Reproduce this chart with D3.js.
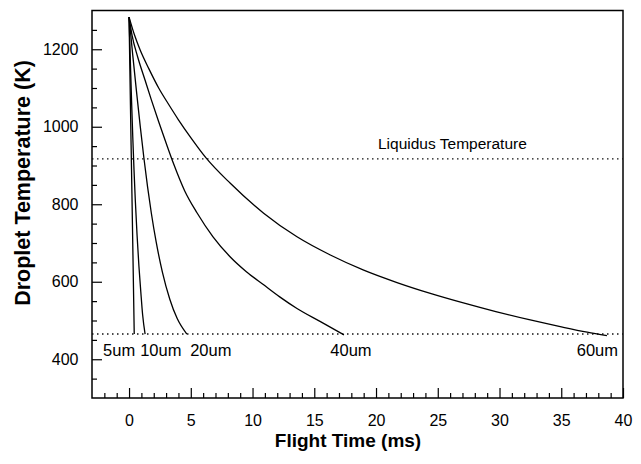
<!DOCTYPE html>
<html><head><meta charset="utf-8">
<script src="https://cdn.jsdelivr.net/npm/d3@7"></script>
<style>
html,body{margin:0;padding:0;background:#fff;}
text{font-family:"Liberation Sans",Arial,Helvetica,sans-serif;}
</style></head>
<body><svg id="chart" width="641" height="464"></svg>
<script>
// ---- data ----
const xTicks = [0, 5, 10, 15, 20, 25, 30, 35, 40];
const yTicks = [400, 600, 800, 1000, 1200];
const xMinorTicks = d3.range(-2, 40, 1);
const yMinorTicks = d3.range(350, 1300, 50);

const liquidusT = 917;
const solidusT = 465;

const t5  = [0, 0.1, 0.2, 0.3, 0.42];
const T5  = [1283, 1080, 890, 700, 465];
const t10 = [0, 0.1, 0.2, 0.3, 0.4, 0.5, 0.65, 0.8, 0.95, 1.1, 1.3];
const T10 = [1283, 1175, 1070, 975, 890, 815, 720, 640, 575, 515, 465];
const t20 = [0, 0.3, 0.6, 0.9, 1.2, 1.5, 1.8, 2.2, 2.7, 3.3, 3.9, 4.68];
const T20 = [1283, 1185, 1092, 1003, 920, 845, 778, 702, 625, 555, 505, 465];
const t40 = [0, 0.25, 0.7, 1.3, 1.8, 2.4, 3.0, 3.6, 4.5, 5.5, 6.8, 8.2, 9.5, 10.9, 12.2, 13.6, 15.5, 17.4];
const T40 = [1283, 1235, 1180, 1120, 1070, 1013, 958, 905, 835, 778, 716, 664, 626, 592, 561, 531, 497, 463];
const t60 = [0, 0.45, 0.9, 1.6, 2.4, 3.2, 4.0, 5.0, 6.2, 8.2, 10.9, 13.6, 16.3, 19.0, 21.7, 24.4, 27.0, 29.7, 32.4, 35.1, 37.1, 38.7];
const T60 = [1283, 1236, 1198, 1150, 1100, 1058, 1018, 972, 921, 854, 777, 716, 669, 630, 598, 570, 546, 523, 502, 483, 470, 461];

const seriesNames = ["5um", "10um", "20um", "40um", "60um"];
const seriesTimes = [t5, t10, t20, t40, t60];
const seriesTemps = [T5, T10, T20, T40, T60];
const labelTimes = [-2.1, 0.9, 4.95, 16.3, 39.6];
const labelTemp = 408;

// ---- layout ----
const svg = d3.select("#chart");
const m = {left: 92, top: 10.5, right: 18, bottom: 66};
const W = 641, H = 464;
const x = d3.scaleLinear().domain([-3, 40]).range([m.left, W - m.right]);
const y = d3.scaleLinear().domain([300, 1300]).range([H - m.bottom, m.top]);
const FONT = "Liberation Sans, Arial, sans-serif";

// minor ticks
svg.append("g").attr("transform", `translate(0,${y(300)})`)
  .call(d3.axisBottom(x).tickValues(xMinorTicks.filter(v => !xTicks.includes(v))).tickSize(-5).tickFormat(""))
  .call(g => g.select(".domain").remove())
  .selectAll("line").attr("stroke", "#000").attr("stroke-width", 1.2);
svg.append("g").attr("transform", `translate(${x(-3)},0)`)
  .call(d3.axisLeft(y).tickValues(yMinorTicks.filter(v => !yTicks.includes(v))).tickSize(-5).tickFormat(""))
  .call(g => g.select(".domain").remove())
  .selectAll("line").attr("stroke", "#000").attr("stroke-width", 1.2);

// major ticks + labels
const gx = svg.append("g").attr("transform", `translate(0,${y(300)})`)
  .call(d3.axisBottom(x).tickValues(xTicks).tickFormat(d3.format("d")).tickSizeInner(-10).tickSizeOuter(0).tickPadding(17))
  .call(g => g.select(".domain").remove());
gx.selectAll("line").attr("stroke", "#000").attr("stroke-width", 1.2);
gx.selectAll("text").attr("font-size", 16).attr("fill", "#000").attr("font-family", FONT);

const gy = svg.append("g").attr("transform", `translate(${x(-3)},0)`)
  .call(d3.axisLeft(y).tickValues(yTicks).tickFormat(d3.format("d")).tickSizeInner(-10).tickSizeOuter(0).tickPadding(13.5))
  .call(g => g.select(".domain").remove());
gy.selectAll("line").attr("stroke", "#000").attr("stroke-width", 1.2);
gy.selectAll("text").attr("font-size", 16).attr("fill", "#000").attr("font-family", FONT);

// frame
svg.append("rect")
  .attr("x", x(-3)).attr("y", y(1300))
  .attr("width", x(40) - x(-3)).attr("height", y(300) - y(1300))
  .attr("fill", "none").attr("stroke", "#000").attr("stroke-width", 1.5);

// dotted reference lines
[liquidusT, solidusT].forEach(v => {
  svg.append("line")
    .attr("x1", x(-3)).attr("x2", x(40))
    .attr("y1", y(v)).attr("y2", y(v))
    .attr("stroke", "#111").attr("stroke-width", 1.4)
    .attr("stroke-dasharray", "1.5,3.5");
});

svg.append("text").attr("x", 378).attr("y", y(liquidusT) - 10)
  .attr("font-size", 15.5).attr("fill", "#000").text("Liquidus Temperature");

// curves
const line = d3.line().x(d => x(d[0])).y(d => y(d[1])).curve(d3.curveMonotoneX);
seriesNames.forEach((name, i) => {
  const pts = seriesTimes[i].map((t, j) => [t, seriesTemps[i][j]]);
  svg.append("path").datum(pts).attr("d", line)
    .attr("fill", "none").attr("stroke", "#000").attr("stroke-width", 1.3)
    .attr("stroke-linejoin", "round");
});

// curve labels
seriesNames.forEach((name, i) => {
  svg.append("text")
    .attr("x", x(labelTimes[i])).attr("y", y(labelTemp))
    .attr("font-size", 16.5).attr("fill", "#000")
    .attr("text-anchor", i === 4 ? "end" : "start")
    .text(name);
});

// axis titles
svg.append("text").attr("x", 348).attr("y", 447)
  .attr("text-anchor", "middle").attr("font-size", 19).attr("font-weight", "bold")
  .text("Flight Time (ms)");
svg.append("text")
  .attr("transform", `translate(29.5,183) rotate(-90)`)
  .attr("text-anchor", "middle").attr("font-size", 21.5).attr("font-weight", "bold")
  .text("Droplet Temperature (K)");
</script></body></html>
